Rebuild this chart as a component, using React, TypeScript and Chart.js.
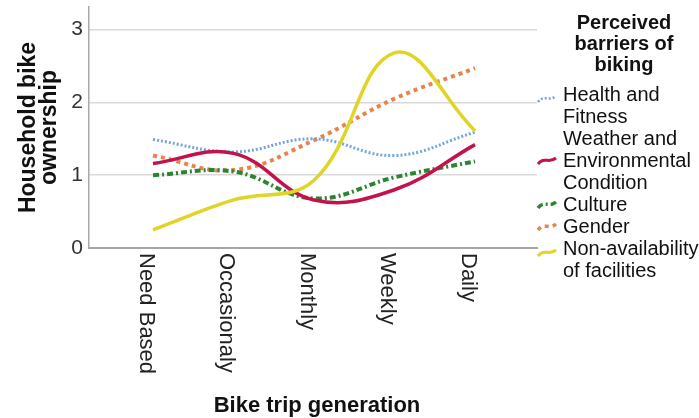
import React, { useEffect, useRef } from 'react';
import { Chart, registerables } from 'chart.js';

Chart.register(...registerables);

// ---- data ----
const categories = ['Need Based', 'Occasionaly', 'Monthly', 'Weekly', 'Daily'];
const seriesNames = [
  'Health and Fitness',
  'Weather and Environmental Condition',
  'Culture',
  'Gender',
  'Non-availability of facilities',
];
const healthFitness = [1.49, 1.32, 1.5, 1.27, 1.59];
const weatherEnvironment = [1.16, 1.3, 0.66, 0.8, 1.42];
const culture = [1.0, 1.05, 0.68, 0.97, 1.19];
const gender = [1.27, 1.07, 1.48, 2.05, 2.47];
const nonAvailability = [0.25, 0.66, 0.93, 2.68, 1.61];
const yTicks = [0, 1, 2, 3];
const xTitle = 'Bike trip generation';
const yTitle = ['Household bike', 'ownership'];
const legendTitle = 'Perceived barriers of biking';

const seriesValues = [healthFitness, weatherEnvironment, culture, gender, nonAvailability];

const FONT = '"Liberation Sans", Arial, Helvetica, sans-serif';

const seriesStyles = [
  { color: '#74a5db', width: 3, dash: [2, 2], order: 4 },
  { color: '#c2134b', width: 3.5, dash: [] as number[], order: 2 },
  { color: '#2a8530', width: 4, dash: [6, 3, 2, 3], order: 3 },
  { color: '#e8834d', width: 4, dash: [4, 4], order: 5 },
  { color: '#e0d526', width: 3.5, dash: [] as number[], order: 1 },
];

function wrapText(ctx: CanvasRenderingContext2D, text: string, maxWidth: number): string[] {
  const words = text.split(' ');
  const lines: string[] = [];
  let cur = '';
  for (const w of words) {
    const test = cur ? cur + ' ' + w : w;
    if (cur && ctx.measureText(test).width > maxWidth) {
      lines.push(cur);
      cur = w;
    } else {
      cur = test;
    }
  }
  if (cur) lines.push(cur);
  return lines;
}

const customText = {
  id: 'customText',
  afterDraw(chart: any) {
    const { ctx, chartArea, scales } = chart;
    const xs = scales.x;
    ctx.save();

    // x tick labels, rotated clockwise
    ctx.fillStyle = '#222';
    ctx.font = `22px ${FONT}`;
    categories.forEach((c, i) => {
      const px = xs.getPixelForValue(i) - 7;
      ctx.save();
      ctx.translate(px, chartArea.bottom + 5);
      ctx.rotate(Math.PI / 2);
      ctx.textAlign = 'left';
      ctx.textBaseline = 'middle';
      ctx.fillText(c, 0, 0);
      ctx.restore();
    });

    // x title
    ctx.font = `bold 22px ${FONT}`;
    ctx.fillStyle = '#111';
    ctx.textAlign = 'center';
    ctx.textBaseline = 'alphabetic';
    ctx.fillText(xTitle, (chartArea.left + chartArea.right) / 2 + 4, 412);

    // y title
    ctx.save();
    ctx.translate(29, (chartArea.top + chartArea.bottom) / 2);
    ctx.rotate(-Math.PI / 2);
    ctx.font = `bold 23px ${FONT}`;
    ctx.textAlign = 'center';
    ctx.textBaseline = 'middle';
    yTitle.forEach((t, k) => ctx.fillText(t, 0, k * 21));
    ctx.restore();

    // legend
    const iconX = chartArea.right;
    const textX = chartArea.right + 26;
    ctx.font = `bold 20px ${FONT}`;
    ctx.textAlign = 'center';
    ctx.textBaseline = 'middle';
    const titleLines = wrapText(ctx, legendTitle, 140);
    titleLines.forEach((t, k) => ctx.fillText(t, 624, 23 + k * 21));

    ctx.font = `20px ${FONT}`;
    let y = 95;
    const lh = 22;
    chart.data.datasets.forEach((ds: any, i: number) => {
      const lines = wrapText(ctx, ds.label, 140);
      ctx.fillStyle = '#111';
      ctx.textAlign = 'left';
      ctx.textBaseline = 'middle';
      lines.forEach((t, k) => ctx.fillText(t, textX, y + k * lh));
      const iy = lines.length % 2 === 1 ? y + ((lines.length - 1) * lh) / 2 : y + 4;
      const st = seriesStyles[i];
      ctx.save();
      ctx.strokeStyle = st.color;
      ctx.lineWidth = Math.max(2.5, st.width - 0.5);
      ctx.setLineDash(st.dash);
      ctx.beginPath();
      ctx.moveTo(iconX + 1, iy + 3);
      ctx.bezierCurveTo(iconX + 7, iy - 5, iconX + 12, iy + 3, iconX + 19, iy - 3);
      ctx.stroke();
      ctx.restore();
      y += lines.length * lh;
    });

    ctx.restore();
  },
};

export default function App() {
  const canvasRef = useRef<HTMLCanvasElement | null>(null);

  useEffect(() => {
    const canvas = canvasRef.current;
    if (!canvas) return;
    const chart = new Chart(canvas, {
      type: 'line',
      data: {
        datasets: seriesNames.map((name, i) => ({
          label: name,
          data: seriesValues[i].map((v, k) => ({ x: k, y: v })),
          borderColor: seriesStyles[i].color,
          borderWidth: seriesStyles[i].width,
          borderDash: seriesStyles[i].dash,
          borderCapStyle: 'butt',
          tension: 0.4,
          pointRadius: 0,
          fill: false,
          order: seriesStyles[i].order,
        })),
      },
      options: {
        animation: false,
        responsive: false,
        devicePixelRatio: 1,
        layout: { padding: { top: 7, right: 162, left: 0, bottom: 0 } },
        plugins: { legend: { display: false }, tooltip: { enabled: false } },
        scales: {
          x: {
            type: 'linear',
            min: -0.795,
            max: 4.77,
            grid: { display: false },
            border: { display: true, color: '#a6a6a6', width: 2 },
            ticks: { display: false },
            afterFit: (scale: any) => {
              scale.height = 170;
              scale.paddingLeft = 0;
              scale.paddingRight = 0;
            },
          },
          y: {
            type: 'linear',
            min: 0,
            max: 3.31,
            afterBuildTicks: (scale: any) => {
              scale.ticks = yTicks.map((v) => ({ value: v }));
            },
            grid: {
              color: (c: any) => (c.tick && c.tick.value === 0 ? 'rgba(0,0,0,0)' : '#d9d9d9'),
              lineWidth: 1.5,
              drawTicks: false,
            },
            border: { display: true, color: '#a8a8a8', width: 1.5 },
            ticks: {
              padding: 6,
              color: '#333',
              font: { family: FONT, size: 21 },
            },
            afterFit: (scale: any) => {
              scale.width = 89;
              scale.paddingTop = 0;
              scale.paddingBottom = 0;
            },
          },
        },
      },
      plugins: [customText],
    } as any);
    return () => chart.destroy();
  }, []);

  return (
    <div style={{ position: 'fixed', left: 0, top: 0, width: 699, height: 418, background: '#fff' }}>
      <canvas ref={canvasRef} width={699} height={418} style={{ width: 699, height: 418, display: 'block' }} />
    </div>
  );
}
